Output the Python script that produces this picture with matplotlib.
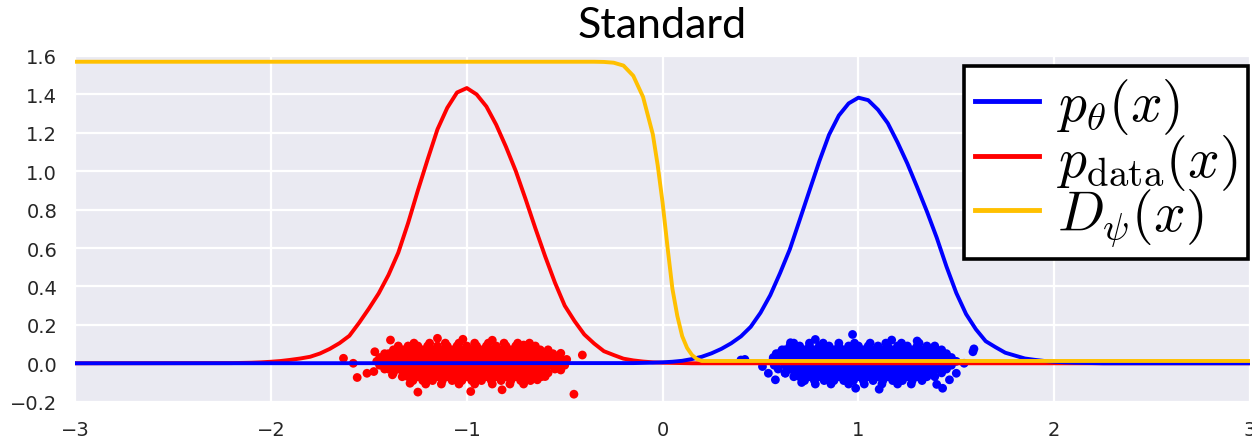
import matplotlib
matplotlib.use("Agg")
import matplotlib.pyplot as plt

# ---------------- data ----------------
# p_data(x), sampled every 0.05 between -2.2 and 0.15 (zero elsewhere)
red_x = [-3.0] + [round(-2.2 + 0.05 * i, 2) for i in range(48)] + [3.0]
red_y = [0.0,
         0.001, 0.002, 0.003, 0.005, 0.008, 0.012, 0.018, 0.025, 0.034, 0.051,
         0.075, 0.105, 0.143, 0.211, 0.285, 0.364, 0.46, 0.576, 0.73, 0.90,
         1.062, 1.218, 1.33, 1.41, 1.433, 1.40, 1.337, 1.242, 1.127, 1.001,
         0.855, 0.703, 0.557, 0.42, 0.30, 0.22, 0.15, 0.103, 0.063, 0.043,
         0.024, 0.015, 0.009, 0.005, 0.003, 0.002, 0.001, 0.0,
         0.0]

# p_theta(x), sampled every 0.05 between -0.2 and 2.25 (zero elsewhere)
blue_x = [-3.0] + [round(-0.2 + 0.05 * i, 2) for i in range(50)] + [3.0]
blue_y = [0.0,
          0.001, 0.001, 0.002, 0.003, 0.005, 0.008, 0.013, 0.022, 0.034, 0.052,
          0.075, 0.104, 0.14, 0.19, 0.263, 0.355, 0.47, 0.594, 0.746, 0.899,
          1.051, 1.19, 1.29, 1.353, 1.383, 1.37, 1.32, 1.25, 1.15, 1.04,
          0.917, 0.79, 0.654, 0.503, 0.366, 0.256, 0.177, 0.115, 0.084, 0.055,
          0.04, 0.025, 0.018, 0.012, 0.008, 0.005, 0.003, 0.002, 0.001, 0.0,
          0.0]

# discriminator D_psi(x)
disc_x = [-3.0, -2.0, -1.0, -0.5, -0.35, -0.3, -0.25, -0.2, -0.15, -0.1, -0.05,
          -0.025, 0.0, 0.025, 0.05, 0.075, 0.1, 0.125, 0.15, 0.175, 0.2, 0.25,
          1.0, 2.0, 3.0]
disc_y = [1.57, 1.57, 1.57, 1.57, 1.57, 1.569, 1.565, 1.55, 1.497, 1.387, 1.192,
          1.03, 0.835, 0.605, 0.388, 0.247, 0.141, 0.08, 0.043, 0.022, 0.012, 0.012,
          0.012, 0.012, 0.012]

# samples from p_data: rows of the dense core, then stragglers
red_rows = [
    (0.105, [-1.27, -1.19, -1.11, -1.04, -0.96, -0.89, -0.81, -0.74, -0.68]),
    (0.090, [-1.35, -1.30, -1.25, -1.20, -1.15, -1.10, -1.05, -1.00, -0.95, -0.90,
             -0.85, -0.80, -0.75, -0.70, -0.65]),
    (0.070, [-1.375, -1.325, -1.275, -1.225, -1.175, -1.125, -1.075, -1.025, -0.975,
             -0.925, -0.875, -0.825, -0.775, -0.725, -0.675, -0.625, -0.585]),
    (0.050, [-1.42, -1.40, -1.35, -1.30, -1.25, -1.20, -1.15, -1.10, -1.05, -1.00,
             -0.95, -0.90, -0.85, -0.80, -0.75, -0.70, -0.65, -0.60, -0.56]),
    (0.030, [-1.445, -1.425, -1.375, -1.325, -1.275, -1.225, -1.175, -1.125, -1.075,
             -1.025, -0.975, -0.925, -0.875, -0.825, -0.775, -0.725, -0.675, -0.625,
             -0.575, -0.525]),
    (0.010, [-1.46, -1.40, -1.35, -1.30, -1.25, -1.20, -1.15, -1.10, -1.05, -1.00,
             -0.95, -0.90, -0.85, -0.80, -0.75, -0.70, -0.65, -0.60, -0.55, -0.50]),
    (-0.010, [-1.445, -1.425, -1.375, -1.325, -1.275, -1.225, -1.175, -1.125, -1.075,
              -1.025, -0.975, -0.925, -0.875, -0.825, -0.775, -0.725, -0.675, -0.625,
              -0.575, -0.525, -0.50]),
    (-0.030, [-1.42, -1.40, -1.35, -1.30, -1.25, -1.20, -1.15, -1.10, -1.05, -1.00,
              -0.95, -0.90, -0.85, -0.80, -0.75, -0.70, -0.65, -0.60, -0.55]),
    (-0.050, [-1.375, -1.325, -1.275, -1.225, -1.175, -1.125, -1.075, -1.025, -0.975,
              -0.925, -0.875, -0.825, -0.775, -0.725, -0.675, -0.625, -0.585]),
    (-0.070, [-1.33, -1.30, -1.25, -1.20, -1.15, -1.10, -1.05, -1.00, -0.95, -0.90,
              -0.85, -0.80, -0.75, -0.70, -0.65, -0.62]),
    (-0.090, [-1.275, -1.225, -1.175, -1.125, -1.075, -1.025, -0.975, -0.925, -0.875,
              -0.825, -0.775, -0.725, -0.675]),
    (-0.108, [-1.21, -1.13, -1.04, -0.96, -0.87, -0.78, -0.71]),
]
red_extra = [(-1.63, 0.026), (-1.58, 0.0), (-1.56, -0.074), (-1.51, -0.052),
             (-1.475, -0.043), (-1.39, 0.121), (-1.38, -0.06), (-1.29, -0.104),
             (-1.25, -0.15), (-1.15, 0.13), (-0.98, -0.147), (-0.82, -0.138),
             (-0.71, 0.095), (-0.52, 0.052), (-0.52, -0.035), (-0.41, 0.043),
             (-0.453, -0.161), (-0.60, -0.069), (-0.64, -0.086), (-1.02, 0.125),
             (-0.87, 0.12), (-1.47, 0.06), (-0.49, 0.02)]

# samples from p_theta
blue_rows = [
    (0.105, [0.67, 0.75, 0.82, 0.90, 0.98, 1.06, 1.14, 1.22, 1.31]),
    (0.090, [0.65, 0.70, 0.75, 0.80, 0.85, 0.90, 0.95, 1.00, 1.05, 1.10, 1.15, 1.20,
             1.25, 1.30, 1.35, 1.39]),
    (0.070, [0.61, 0.625, 0.675, 0.725, 0.775, 0.825, 0.875, 0.925, 0.975, 1.025,
             1.075, 1.125, 1.175, 1.225, 1.275, 1.325, 1.375, 1.425]),
    (0.050, [0.58, 0.60, 0.65, 0.70, 0.75, 0.80, 0.85, 0.90, 0.95, 1.00, 1.05, 1.10,
             1.15, 1.20, 1.25, 1.30, 1.35, 1.40, 1.45]),
    (0.030, [0.565, 0.575, 0.625, 0.675, 0.725, 0.775, 0.825, 0.875, 0.925, 0.975,
             1.025, 1.075, 1.125, 1.175, 1.225, 1.275, 1.325, 1.375, 1.425, 1.475]),
    (0.010, [0.56, 0.60, 0.65, 0.70, 0.75, 0.80, 0.85, 0.90, 0.95, 1.00, 1.05, 1.10,
             1.15, 1.20, 1.25, 1.30, 1.35, 1.40, 1.45, 1.50]),
    (-0.010, [0.57, 0.625, 0.675, 0.725, 0.775, 0.825, 0.875, 0.925, 0.975, 1.025,
              1.075, 1.125, 1.175, 1.225, 1.275, 1.325, 1.375, 1.425, 1.475]),
    (-0.030, [0.59, 0.65, 0.70, 0.75, 0.80, 0.85, 0.90, 0.95, 1.00, 1.05, 1.10, 1.15,
              1.20, 1.25, 1.30, 1.35, 1.40, 1.45]),
    (-0.050, [0.625, 0.675, 0.725, 0.775, 0.825, 0.875, 0.925, 0.975, 1.025, 1.075,
              1.125, 1.175, 1.225, 1.275, 1.325, 1.375, 1.425]),
    (-0.070, [0.67, 0.70, 0.75, 0.80, 0.85, 0.90, 0.95, 1.00, 1.05, 1.10, 1.15, 1.20,
              1.25, 1.30, 1.35, 1.39]),
    (-0.090, [0.725, 0.775, 0.825, 0.875, 0.925, 0.975, 1.025, 1.075, 1.125, 1.175,
              1.225, 1.275, 1.325]),
    (-0.108, [0.78, 0.86, 0.95, 1.03, 1.12, 1.20, 1.27]),
]
blue_extra = [(0.40, 0.017), (0.42, 0.02), (0.51, -0.017), (0.54, -0.052),
              (0.576, -0.086), (0.593, 0.05), (0.627, -0.052), (0.653, 0.107),
              (0.78, 0.124), (0.97, 0.15), (0.986, -0.13), (1.106, -0.135),
              (1.43, -0.13), (1.465, -0.086), (1.50, -0.052), (1.456, 0.035),
              (1.54, 0.0), (1.585, 0.06), (1.59, 0.075), (1.39, 0.069),
              (1.30, 0.116), (1.17, 0.121), (0.71, -0.10), (1.40, -0.11)]

x_ticks = [-3, -2, -1, 0, 1, 2, 3]
y_ticks = [-0.2, 0.0, 0.2, 0.4, 0.6, 0.8, 1.0, 1.2, 1.4, 1.6]

labels = [r"$p_\theta(x)$", r"$p_{\mathrm{data}}(x)$", r"$D_\psi(x)$"]
BLUE, RED, GOLD = "#0000ff", "#ff0000", "#ffc000"


def flatten(rows, extra):
    xs, ys = [], []
    for y, row in rows:
        xs.extend(row)
        ys.extend([y] * len(row))
    for x, y in extra:
        xs.append(x)
        ys.append(y)
    return xs, ys


# ---------------- figure ----------------
plt.rcParams["mathtext.fontset"] = "cm"
fig = plt.figure(figsize=(12.52, 4.39), dpi=100)
ax = fig.add_axes([0.0601, 0.0827, 0.9383, 0.7875])
ax.set_facecolor("#EAEAF2")
for s in ax.spines.values():
    s.set_visible(False)
ax.set_axisbelow(True)
ax.grid(True, color="white", linewidth=1.6)

rx, ry = flatten(red_rows, red_extra)
bx, by = flatten(blue_rows, blue_extra)
ax.scatter(rx, ry, s=40, color=RED, edgecolors="none", zorder=2)
ax.scatter(bx, by, s=40, color=BLUE, edgecolors="none", zorder=2)

l_red, = ax.plot(red_x, red_y, color=RED, lw=2.8, zorder=3)
l_blue, = ax.plot(blue_x, blue_y, color=BLUE, lw=2.8, zorder=4)
l_gold, = ax.plot(disc_x, disc_y, color=GOLD, lw=2.8, zorder=5)

ax.set_xlim(-3, 3)
ax.set_ylim(-0.2, 1.6)
ax.set_xticks(x_ticks)
ax.set_xticklabels([f"{v}".replace("-", "\u2212") for v in x_ticks])
ax.set_yticks(y_ticks)
ax.set_yticklabels([f"{v:.1f}".replace("-", "\u2212") for v in y_ticks])
ax.tick_params(length=0, pad=13, labelsize=14, colors="#262626")

leg = ax.legend([l_blue, l_red, l_gold], labels, loc="upper right",
                bbox_to_anchor=(0.9983, 0.972), borderaxespad=0,
                fontsize=40, handlelength=1.15, handletextpad=0.33,
                labelspacing=-0.08, borderpad=0.19, fancybox=False,
                framealpha=1, facecolor="white", edgecolor="black")
leg.get_frame().set_linewidth(2.6)
for h in leg.legend_handles:
    h.set_linewidth(3.5)

ax.set_title("Standard", fontfamily="Lato", fontsize=31, pad=13.5, color="black")

fig.savefig("out.png", dpi=100)
